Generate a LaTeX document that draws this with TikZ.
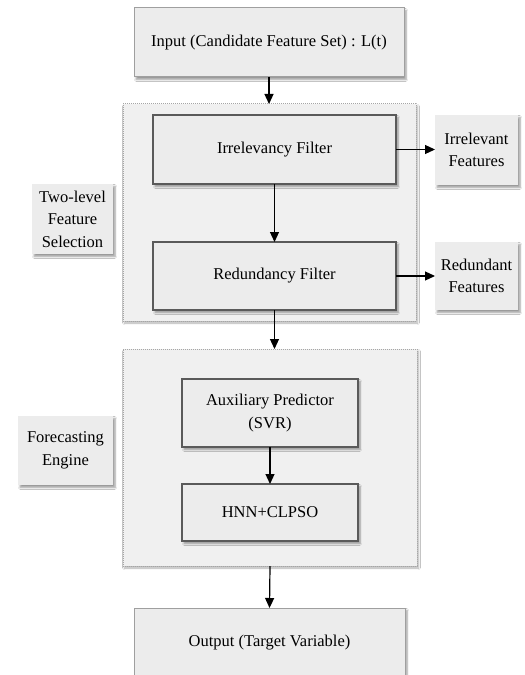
\documentclass[tikz,border=0pt]{standalone}
\usepackage{fontspec}
\setmainfont{Liberation Serif}
\usetikzlibrary{arrows.meta,shadows.blur}
\definecolor{boxfill}{HTML}{ECECEC}
\definecolor{groupfill}{HTML}{F0F0F0}
\definecolor{boxline}{HTML}{5A5A5A}
\begin{document}
\begin{tikzpicture}[x=1bp,y=-1bp,
  every node/.style={font=\fontsize{16.5bp}{22.5bp}\selectfont, align=center, inner sep=0pt, outer sep=0pt},
  base/.style={rectangle, fill=boxfill,
    blur shadow={shadow xshift=2bp, shadow yshift=-2.5bp, shadow blur steps=5, shadow opacity=40}},
  box/.style={base, draw=boxline, line width=1.2bp},
  plainbox/.style={base},
  group/.style={rectangle, fill=groupfill,
    draw=gray!70, line width=1bp, dash pattern=on 1bp off 1bp,
    blur shadow={shadow xshift=1.5bp, shadow yshift=-2bp, shadow blur steps=5, shadow opacity=30}},
  arr/.style={line width=1.2bp, -{Triangle[length=10bp,width=9bp]}}
]
\clip (0,0) rectangle (525,675);
\fill[white] (0,0) rectangle (525,675);

% groups
\node[group, minimum width=293bp, minimum height=217bp] (g1) at (269.5,212.5) {};
\node[group, minimum width=294bp, minimum height=217bp] (g2) at (270,457.5) {};

% main boxes
\node[box, draw=gray!75, line width=1bp, minimum width=270bp, minimum height=69bp] (input) at (269,42.5) {Input (Candidate Feature Set) : L(t)};
\node[box, minimum width=243bp, minimum height=69bp] (irr) at (274.5,149.5) {Irrelevancy Filter};
\node[box, minimum width=243bp, minimum height=68bp] (red) at (274.5,276) {Redundancy Filter};
\node[box, minimum width=176bp, minimum height=68bp] (aux) at (270,413) {Auxiliary Predictor\\(SVR)};
\node[box, minimum width=176bp, minimum height=57bp] (hnn) at (270,512.5) {HNN+CLPSO};
\node[box, draw=gray!75, line width=1bp, minimum width=271bp, minimum height=70bp] (out) at (269.5,643) {Output (Target Variable)};

% side boxes
\node[plainbox, minimum width=83bp, minimum height=70bp] (irrout) at (476.5,150) {Irrelevant\\Features};
\node[plainbox, minimum width=83bp, minimum height=68bp] (redout) at (476.5,276) {Redundant\\Features};
\node[plainbox, minimum width=81bp, minimum height=70bp] (lab1) at (72.5,219) {Two-level\\Feature\\Selection};
\node[plainbox, minimum width=95bp, minimum height=69bp] (lab2) at (65.5,450.5) {Forecasting\\Engine};

% connectors
\draw[arr] (input.south) -- (input.south |- g1.north);
\draw[arr] (irr.south) -- (red.north);
\draw[arr] (red.south) -- (red.south |- g2.north);
\draw[arr] (aux.south) -- (hnn.north);
\draw[arr] (g2.south) -- (out.north);
\draw[arr] (irr.east) -- (irr.east -| irrout.west);
\draw[arr] (red.east) -- (red.east -| redout.west);
\end{tikzpicture}
\end{document}
